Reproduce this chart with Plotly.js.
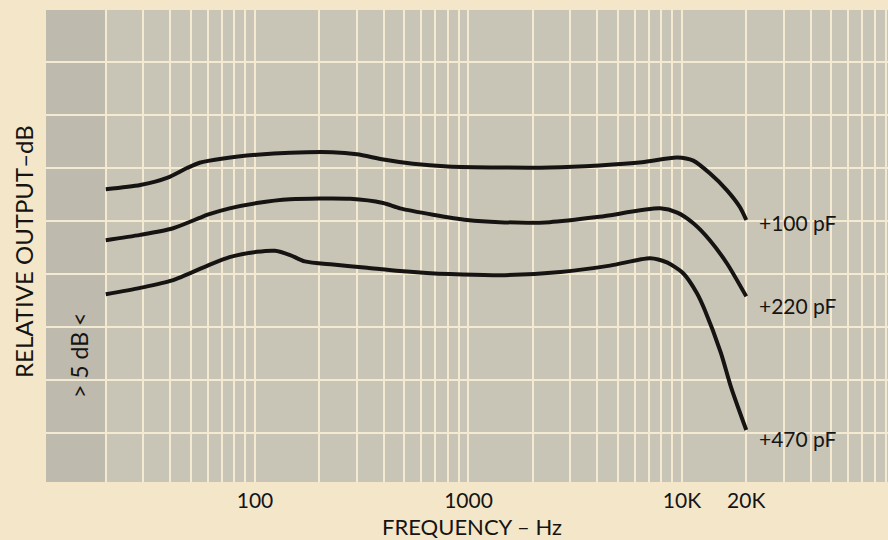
<!DOCTYPE html>
<html>
<head>
<meta charset="utf-8">
<script src="https://cdn.plot.ly/plotly-3.0.1.min.js"></script>
<style>
  html, body { margin: 0; padding: 0; background: #f4e6c9; }
  #chart { width: 888px; height: 540px; }
</style>
</head>
<body>
<div id="chart"></div>
<script>
// ---- data (frequency in Hz, relative output in dB) ----
const freq100 = [20, 29, 39, 48, 55, 71, 102, 146, 230, 300, 400, 550, 800, 1400, 2400, 4100, 6500, 9500, 11300, 13500, 16250, 18700, 20000];
const db100   = [-12.0, -11.6, -10.9, -10.0, -9.5, -9.1, -8.75, -8.55, -8.5, -8.7, -9.2, -9.6, -9.85, -9.95, -9.95, -9.75, -9.45, -9.0, -9.3, -10.5, -12.1, -13.7, -14.9];

const freq220 = [20, 29, 41, 55, 60, 76, 102, 146, 279, 398, 478, 682, 984, 1400, 2400, 4100, 7900, 9500, 11300, 13500, 16250, 20000];
const db220   = [-16.8, -16.3, -15.7, -14.7, -14.4, -13.8, -13.3, -12.95, -12.9, -13.3, -13.8, -14.4, -14.9, -15.1, -15.1, -14.6, -13.8, -14.2, -15.2, -16.8, -19.0, -22.1];

const freq470 = [20, 29, 41, 60, 76, 102, 124, 146, 171, 232, 335, 478, 819, 1400, 2700, 4600, 7100, 8500, 10100, 11750, 12800, 15200, 17000, 20000];
const db470   = [-21.9, -21.3, -20.6, -19.2, -18.4, -17.9, -17.8, -18.2, -18.8, -19.1, -19.4, -19.7, -20.0, -20.1, -19.8, -19.2, -18.5, -18.9, -19.9, -21.8, -23.4, -27.4, -30.7, -34.7];

const seriesLabels = ["+100 pF", "+220 pF", "+470 pF"];

const gridFreqs = [20,30,40,50,60,70,80,90,100,200,300,400,500,600,700,800,900,1000,
                   2000,3000,4000,5000,6000,7000,8000,9000,10000,20000,30000,40000,50000,60000,70000,80000,90000];
const labelledFreqs = {100: "100", 1000: "1000", 10000: "10K", 20000: "20K"};

const xTitle = "FREQUENCY – Hz";
const yTitle = "RELATIVE OUTPUT–dB";
const scaleNote = "> 5 dB <";

// ---- drawing ----
const ink = "#161412";
const fontFam = "Lato, 'Noto Sans', 'Liberation Sans', sans-serif";

const xs = [freq100, freq220, freq470];
const ys = [db100, db220, db470];

const traces = xs.map((x, i) => ({
  x: x, y: ys[i], type: "scatter", mode: "lines",
  line: { color: ink, width: 4, shape: "spline", smoothing: 0.7 },
  hoverinfo: "skip", showlegend: false
}));

const labelShifts = [-2, -9, -8];
const annotations = seriesLabels.map((t, i) => ({
  text: t, xref: "x", yref: "y",
  x: Math.log10(xs[i][xs[i].length - 1]), y: ys[i][ys[i].length - 1],
  xanchor: "left", yanchor: "middle", xshift: 11, yshift: labelShifts[i],
  showarrow: false, font: { family: fontFam, size: 21, color: ink }
}));

annotations.push({
  text: yTitle, xref: "paper", yref: "paper", x: 0, y: 0.5, xshift: -23, yshift: -6,
  xanchor: "center", yanchor: "middle", textangle: -90, showarrow: false,
  font: { family: fontFam, size: 24, color: ink }
});
annotations.push({
  text: scaleNote, xref: "x", yref: "y", x: Math.log10(15), y: -27.7,
  xanchor: "center", yanchor: "middle", textangle: -90, showarrow: false,
  font: { family: fontFam, size: 23, color: ink }
});
annotations.push({
  text: xTitle, xref: "paper", yref: "paper", x: 0.506, y: -0.0953,
  xanchor: "center", yanchor: "middle", showarrow: false,
  font: { family: fontFam, size: 22, color: ink }
});

const layout = {
  width: 888, height: 540,
  margin: { l: 46, r: 0, t: 10, b: 58 },
  paper_bgcolor: "#f4e6c9",
  plot_bgcolor: "#c9c5b6",
  font: { family: fontFam, color: ink },
  xaxis: {
    type: "log", range: [1.021, 4.965],
    tickmode: "array", tickvals: gridFreqs,
    ticktext: gridFreqs.map(f => labelledFreqs[f] || ""),
    showgrid: true, gridcolor: "#f4ead2", gridwidth: 2,
    zeroline: false, showline: false, ticks: "",
    ticklabelstandoff: 4,
    tickfont: { family: fontFam, size: 21, color: ink },
    fixedrange: true
  },
  yaxis: {
    range: [-39.6, 4.9], tick0: 0, dtick: 5,
    showgrid: true, gridcolor: "#f4ead2", gridwidth: 2.2,
    zeroline: false, showline: false, ticks: "", showticklabels: false,
    fixedrange: true
  },
  shapes: [{
    type: "rect", layer: "below", xref: "paper", yref: "paper",
    x0: 0, x1: 0.0705, y0: 0, y1: 1,
    fillcolor: "#bfbaae", line: { width: 0 }
  }],
  annotations: annotations
};

Plotly.newPlot("chart", traces, layout, { staticPlot: true, displayModeBar: false });
</script>
</body>
</html>
